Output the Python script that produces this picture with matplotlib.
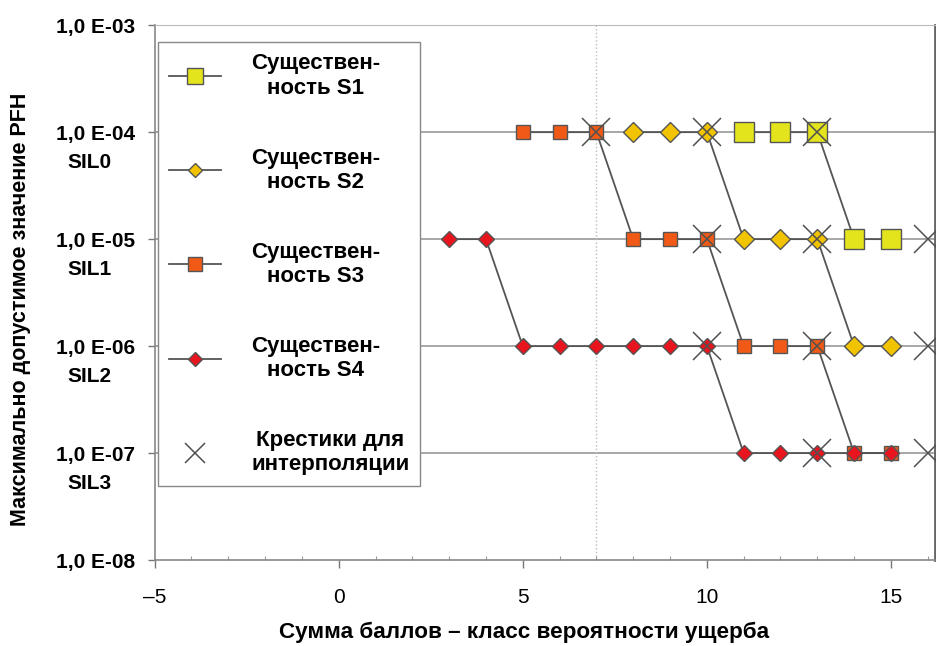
#!/usr/bin/env python3
import numpy as np
import matplotlib
matplotlib.use("Agg")
import matplotlib.pyplot as plt
from matplotlib.ticker import FixedLocator, FixedFormatter, MultipleLocator

plt.rcParams["font.family"] = ["Liberation Sans", "DejaVu Sans"]

# y levels (PFH) and their labels
y_ticks = [1e-3, 1e-4, 1e-5, 1e-6, 1e-7, 1e-8]
y_tick_labels = ["1,0 E-03", "1,0 E-04", "1,0 E-05", "1,0 E-06", "1,0 E-07", "1,0 E-08"]
sil_levels = [1e-4, 1e-5, 1e-6, 1e-7]
sil_labels = ["SIL0", "SIL1", "SIL2", "SIL3"]

# series: score sum -> allowed PFH
s1_x = [11, 12, 13, 14, 15]
s1_y = [1e-4, 1e-4, 1e-4, 1e-5, 1e-5]
s2_x = [8, 9, 10, 11, 12, 13, 14, 15]
s2_y = [1e-4, 1e-4, 1e-4, 1e-5, 1e-5, 1e-5, 1e-6, 1e-6]
s3_x = [5, 6, 7, 8, 9, 10, 11, 12, 13, 14, 15]
s3_y = [1e-4, 1e-4, 1e-4, 1e-5, 1e-5, 1e-5, 1e-6, 1e-6, 1e-6, 1e-7, 1e-7]
s4_x = [3, 4, 5, 6, 7, 8, 9, 10, 11, 12, 13, 14, 15]
s4_y = [1e-5, 1e-5, 1e-6, 1e-6, 1e-6, 1e-6, 1e-6, 1e-6, 1e-7, 1e-7, 1e-7, 1e-7, 1e-7]

# interpolation crosses
cross_x = [7, 10, 13, 10, 13, 16, 10, 13, 16, 13, 16]
cross_y = [1e-4, 1e-4, 1e-4, 1e-5, 1e-5, 1e-5, 1e-6, 1e-6, 1e-6, 1e-7, 1e-7]

labels = ["Существен-\nность S1", "Существен-\nность S2",
          "Существен-\nность S3", "Существен-\nность S4",
          "Крестики для\nинтерполяции"]

fig = plt.figure(figsize=(9.37, 6.46), dpi=100)
ax = fig.add_axes([0.165, 0.133, 0.833, 0.828])

ax.set_yscale("log")
ax.set_xlim(-5, 16.2)
ax.set_ylim(1e-8, 1e-3)

# grid lines at the SIL levels and dotted line at 7
for lv in sil_levels:
    ax.axhline(lv, color="#a0a0a0", lw=1.3, zorder=1)
ax.axvline(7, color="#bbbbbb", lw=1.0, ls=":", zorder=1)

line_kw = dict(color="#555555", lw=1.3, markeredgecolor="#555555", markeredgewidth=1.0)
ax.plot(s1_x, s1_y, marker="s", ms=15, markerfacecolor="#e4e41c", label=labels[0], zorder=3, **line_kw)
ax.plot(s2_x, s2_y, marker="D", ms=10, markerfacecolor="#f2c300", label=labels[1], zorder=3, **line_kw)
ax.plot(s3_x, s3_y, marker="s", ms=10.5, markerfacecolor="#f05a16", label=labels[2], zorder=4, **line_kw)
ax.plot(s4_x, s4_y, marker="D", ms=8, markerfacecolor="#e8141e", label=labels[3], zorder=5, **line_kw)
ax.plot(cross_x, cross_y, ls="none", marker="x", ms=20, mew=1.1, color="#505050",
        label=labels[4], zorder=6)

# axes styling
ax.yaxis.set_major_locator(FixedLocator(y_ticks))
ax.yaxis.set_major_formatter(FixedFormatter(y_tick_labels))
ax.yaxis.set_minor_locator(FixedLocator([]))
ax.xaxis.set_minor_locator(MultipleLocator(1))
ax.set_xticks([-5, 0, 5, 10, 15])
ax.set_xticklabels(["\u20135", "0", "5", "10", "15"])

ax.tick_params(axis="y", which="major", direction="out", length=5, width=1,
               color="#777777", pad=9, labelsize=15)
for t in ax.get_yticklabels():
    t.set_fontweight("bold")
ax.tick_params(axis="x", which="major", direction="out", length=6, width=1,
               color="#777777", pad=14, labelsize=15)
ax.tick_params(axis="x", which="minor", direction="in", length=3, width=0.8, color="#999999")

for s in ["left", "bottom"]:
    ax.spines[s].set_color("#888888")
    ax.spines[s].set_linewidth(1.2)
ax.spines["top"].set_color("#bbbbbb")
ax.spines["right"].set_color("#666666")
ax.spines["right"].set_linewidth(2.0)

# SIL labels under the tick values
for lv, txt in zip(sil_levels, sil_labels):
    ax.annotate(txt, xy=(0, lv), xycoords=("axes fraction", "data"),
                xytext=(-47, -22), textcoords="offset points",
                ha="center", va="center", fontsize=15, fontweight="bold")

ax.set_xlabel("Сумма баллов – класс вероятности ущерба", fontsize=16.2,
              fontweight="bold")
ax.xaxis.set_label_coords(0.473, -0.115)
ax.set_ylabel("Максимально допустимое значение PFH", fontsize=15.5,
              fontweight="bold")
ax.yaxis.set_label_coords(-0.158, 0.469)

leg = ax.legend(loc="upper left", bbox_to_anchor=(0.004, 0.968), borderaxespad=0,
                labelspacing=2.2, handlelength=2.35, handletextpad=1.35,
                borderpad=0.5, fancybox=False, edgecolor="#888888", framealpha=1,
                prop={"weight": "bold", "size": 16})
for t in leg.get_texts():
    t.set_multialignment("center")
for h, ms in zip(leg.legend_handles, [11, 7.5, 10, 7, 15]):
    h.set_markersize(ms)

plt.savefig("out.png", dpi=100)
